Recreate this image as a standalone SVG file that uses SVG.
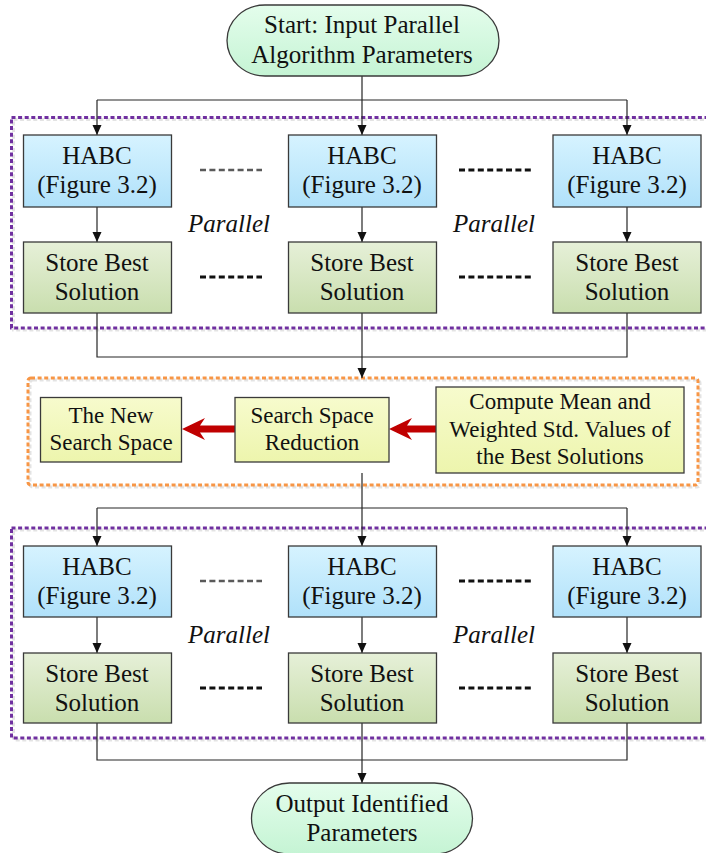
<svg xmlns="http://www.w3.org/2000/svg" width="706" height="853" viewBox="0 0 706 853" font-family="'Liberation Serif', 'Times New Roman', Times, serif">
  <defs>
    <linearGradient id="gBlue" x1="0" y1="0" x2="0" y2="1">
      <stop offset="0" stop-color="#d6f3ff"/>
      <stop offset="1" stop-color="#b0e1fa"/>
    </linearGradient>
    <linearGradient id="gGreen" x1="0" y1="0" x2="0" y2="1">
      <stop offset="0" stop-color="#e6f0d8"/>
      <stop offset="1" stop-color="#c9deae"/>
    </linearGradient>
    <linearGradient id="gYellow" x1="0" y1="0" x2="0" y2="1">
      <stop offset="0" stop-color="#f7fbcd"/>
      <stop offset="1" stop-color="#edf5ad"/>
    </linearGradient>
    <linearGradient id="gMint" x1="0" y1="0" x2="0" y2="1">
      <stop offset="0" stop-color="#e4fdec"/>
      <stop offset="1" stop-color="#c5f4d4"/>
    </linearGradient>
    <marker id="arrow" markerUnits="userSpaceOnUse" markerWidth="11" markerHeight="10" refX="10" refY="4.5" orient="auto">
      <path d="M0,0 L10,4.5 L0,9 z" fill="#111"/>
    </marker>
  </defs>
  <style>
    text { fill: #111; text-anchor: middle; }
    .t25 { font-size: 25px; }
    .t23 { font-size: 23px; }
    .ital { font-size: 25px; font-style: italic; }
    .box { stroke: #3a3a3a; stroke-width: 1.3; }
    .habc { fill: url(#gBlue); }
    .store { fill: url(#gGreen); }
    .yel { fill: url(#gYellow); }
    .term { fill: url(#gMint); stroke: #3a3a3a; stroke-width: 1.3; }
    .wire { fill: none; stroke: #262626; stroke-width: 1.2; }
    .purple { fill: none; stroke: #7030a0; stroke-width: 3; stroke-dasharray: 4 2.6; }
    .orange { fill: none; stroke: #f79646; stroke-width: 3; stroke-dasharray: 4 2.6; }
    .halo { fill: none; stroke: #e3e3e3; stroke-width: 3; stroke-dasharray: 4 2.6; }
    .dots { stroke: #111; stroke-width: 3.2; stroke-dasharray: 6 3.4; }
    .dotsg { stroke: #5a5a5a; stroke-width: 2.6; stroke-dasharray: 6 3.4; }
    .red { fill: #c00000; }
  </style>

  <!-- dashed group frames -->
  <g id="frames">
    <rect class="halo" x="13.5" y="119.5" width="700" height="210.5"/>
    <rect class="purple" x="11.5" y="117.5" width="700" height="210.5"/>
    <rect class="halo" x="30" y="380" width="670" height="107" rx="3"/>
    <rect class="orange" x="28" y="378" width="670" height="107" rx="3"/>
    <rect class="halo" x="13.5" y="530" width="700" height="210"/>
    <rect class="purple" x="11.5" y="528" width="700" height="210"/>
  </g>

  <!-- connectors -->
  <g id="connectors">
    <path class="wire" d="M362,76 V100 M97,100 H627"/>
    <path class="wire" d="M97,100 V135" marker-end="url(#arrow)"/>
    <path class="wire" d="M362,100 V135" marker-end="url(#arrow)"/>
    <path class="wire" d="M627,100 V135" marker-end="url(#arrow)"/>
    <path class="wire" d="M97,207 V242" marker-end="url(#arrow)"/>
    <path class="wire" d="M362,207 V242" marker-end="url(#arrow)"/>
    <path class="wire" d="M627,207 V242" marker-end="url(#arrow)"/>
    <path class="wire" d="M97,313 V357 H627 V313 M362,313 V357"/>
    <path class="wire" d="M362,357 V378" marker-end="url(#arrow)"/>
    <path class="wire" d="M362,473 V508 M97,508 H627"/>
    <path class="wire" d="M97,508 V546" marker-end="url(#arrow)"/>
    <path class="wire" d="M362,508 V546" marker-end="url(#arrow)"/>
    <path class="wire" d="M627,508 V546" marker-end="url(#arrow)"/>
    <path class="wire" d="M97,617 V653" marker-end="url(#arrow)"/>
    <path class="wire" d="M362,617 V653" marker-end="url(#arrow)"/>
    <path class="wire" d="M627,617 V653" marker-end="url(#arrow)"/>
    <path class="wire" d="M97,723 V760 H627 V723 M362,723 V760"/>
    <path class="wire" d="M362,760 V783" marker-end="url(#arrow)"/>
    <!-- thick red flow arrows -->
    <path class="red" d="M389,429 L412,418 L407,425.5 H436 V432.5 H407 L412,440 Z"/>
    <path class="red" d="M182,429 L205,418 L200,425.5 H235 V432.5 H200 L205,440 Z"/>
  </g>

  <!-- start -->
  <g id="start">
    <rect class="term" x="227" y="5" width="272" height="71" rx="38" ry="35.5"/>
    <text class="t25" x="362" y="33">Start: Input Parallel</text>
    <text class="t25" x="362" y="63">Algorithm Parameters</text>
  </g>

  <!-- first parallel stage -->
  <g id="habc1a">
    <rect class="box habc" x="23.5" y="135" width="148" height="72"/>
    <text class="t25" x="97" y="164">HABC</text>
    <text class="t25" x="97" y="193">(Figure 3.2)</text>
  </g>
  <g id="habc1b">
    <rect class="box habc" x="288.5" y="135" width="148" height="72"/>
    <text class="t25" x="362" y="164">HABC</text>
    <text class="t25" x="362" y="193">(Figure 3.2)</text>
  </g>
  <g id="habc1c">
    <rect class="box habc" x="553" y="135" width="148" height="72"/>
    <text class="t25" x="627" y="164">HABC</text>
    <text class="t25" x="627" y="193">(Figure 3.2)</text>
  </g>
  <g id="store1a">
    <rect class="box store" x="23.5" y="242" width="148" height="71"/>
    <text class="t25" x="97" y="271">Store Best</text>
    <text class="t25" x="97" y="300">Solution</text>
  </g>
  <g id="store1b">
    <rect class="box store" x="288.5" y="242" width="148" height="71"/>
    <text class="t25" x="362" y="271">Store Best</text>
    <text class="t25" x="362" y="300">Solution</text>
  </g>
  <g id="store1c">
    <rect class="box store" x="553" y="242" width="148" height="71"/>
    <text class="t25" x="627" y="271">Store Best</text>
    <text class="t25" x="627" y="300">Solution</text>
  </g>
  <g id="ellipsis1">
    <line class="dotsg" x1="200" y1="170" x2="262" y2="170"/>
    <line class="dots" x1="459" y1="170" x2="532" y2="170"/>
    <line class="dots" x1="200" y1="277" x2="262" y2="277"/>
    <line class="dots" x1="459" y1="277" x2="532" y2="277"/>
    <text class="ital" x="229" y="232">Parallel</text>
    <text class="ital" x="494" y="232">Parallel</text>
  </g>

  <!-- search space reduction stage -->
  <g id="newspace">
    <rect class="box yel" x="40.5" y="397.5" width="141" height="64.5"/>
    <text class="t23" x="111" y="423">The New</text>
    <text class="t23" x="111" y="450">Search Space</text>
  </g>
  <g id="reduction">
    <rect class="box yel" x="235" y="397.5" width="154" height="64.5"/>
    <text class="t23" x="312" y="423">Search Space</text>
    <text class="t23" x="312" y="450">Reduction</text>
  </g>
  <g id="compute">
    <rect class="box yel" x="436" y="387" width="248" height="86"/>
    <text class="t23" x="560" y="409">Compute Mean and</text>
    <text class="t23" x="560" y="437">Weighted Std. Values of</text>
    <text class="t23" x="560" y="464">the Best Solutions</text>
  </g>

  <!-- second parallel stage -->
  <g id="habc2a">
    <rect class="box habc" x="23.5" y="546" width="148" height="71"/>
    <text class="t25" x="97" y="575">HABC</text>
    <text class="t25" x="97" y="604">(Figure 3.2)</text>
  </g>
  <g id="habc2b">
    <rect class="box habc" x="288.5" y="546" width="148" height="71"/>
    <text class="t25" x="362" y="575">HABC</text>
    <text class="t25" x="362" y="604">(Figure 3.2)</text>
  </g>
  <g id="habc2c">
    <rect class="box habc" x="553" y="546" width="148" height="71"/>
    <text class="t25" x="627" y="575">HABC</text>
    <text class="t25" x="627" y="604">(Figure 3.2)</text>
  </g>
  <g id="store2a">
    <rect class="box store" x="23.5" y="653" width="148" height="70"/>
    <text class="t25" x="97" y="682">Store Best</text>
    <text class="t25" x="97" y="711">Solution</text>
  </g>
  <g id="store2b">
    <rect class="box store" x="288.5" y="653" width="148" height="70"/>
    <text class="t25" x="362" y="682">Store Best</text>
    <text class="t25" x="362" y="711">Solution</text>
  </g>
  <g id="store2c">
    <rect class="box store" x="553" y="653" width="148" height="70"/>
    <text class="t25" x="627" y="682">Store Best</text>
    <text class="t25" x="627" y="711">Solution</text>
  </g>
  <g id="ellipsis2">
    <line class="dotsg" x1="200" y1="581" x2="262" y2="581"/>
    <line class="dots" x1="459" y1="581" x2="532" y2="581"/>
    <line class="dots" x1="200" y1="688" x2="262" y2="688"/>
    <line class="dots" x1="459" y1="688" x2="532" y2="688"/>
    <text class="ital" x="229" y="643">Parallel</text>
    <text class="ital" x="494" y="643">Parallel</text>
  </g>

  <!-- end -->
  <g id="output">
    <rect class="term" x="251.5" y="783" width="221" height="71" rx="38" ry="35.5"/>
    <text class="t25" x="362" y="812">Output Identified</text>
    <text class="t25" x="362" y="841">Parameters</text>
  </g>
</svg>
